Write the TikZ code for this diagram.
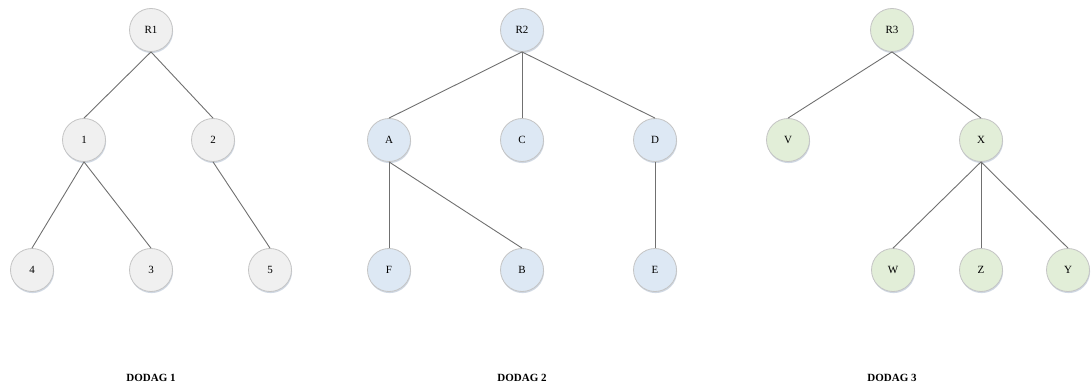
\documentclass[tikz,border=0pt]{standalone}
\usepackage{fontspec}
\setmainfont{Liberation Serif}
\usetikzlibrary{shadows}
\definecolor{gfill}{HTML}{F0F0F0}
\definecolor{bfill}{HTML}{DDE8F4}
\definecolor{vfill}{HTML}{E2EED8}
\definecolor{nborder}{HTML}{C4C4C4}
\definecolor{edgec}{HTML}{707070}
\definecolor{shadc}{HTML}{A9B8CC}
\tikzset{
  nd/.style={circle, draw=nborder, line width=0.8pt, minimum size=43pt, inner sep=0pt,
    font=\fontsize{11}{13}\selectfont,
    drop shadow={shadow xshift=0.6pt, shadow yshift=-1.6pt, fill=shadc, opacity=0.55}},
  gn/.style={nd, fill=gfill},
  bn/.style={nd, fill=bfill},
  vn/.style={nd, fill=vfill},
  ed/.style={draw=edgec, line width=0.9pt},
  captxt/.style={font=\bfseries\fontsize{11}{13}\selectfont}
}
\begin{document}
\begin{tikzpicture}[x=1pt,y=-1pt]
\useasboundingbox (0,0) rectangle (1092,390);
% DODAG 1
\node[gn] (R1) at (151,30) {R1};
\node[gn] (n1) at (84,140) {1};
\node[gn] (n2) at (213,140) {2};
\node[gn] (n4) at (32,270) {4};
\node[gn] (n3) at (151,270) {3};
\node[gn] (n5) at (270,270) {5};
% DODAG 2
\node[bn] (R2) at (522,30) {R2};
\node[bn] (A) at (389,140) {A};
\node[bn] (C) at (522,140) {C};
\node[bn] (D) at (655,140) {D};
\node[bn] (F) at (389,270) {F};
\node[bn] (B) at (522,270) {B};
\node[bn] (E) at (655,270) {E};
% DODAG 3
\node[vn] (R3) at (892,30) {R3};
\node[vn] (V) at (788,140) {V};
\node[vn] (X) at (981,140) {X};
\node[vn] (W) at (893,270) {W};
\node[vn] (Z) at (981,270) {Z};
\node[vn] (Y) at (1068,270) {Y};
% edges
\draw[ed] (R1.south) -- (n1.north);
\draw[ed] (R1.south) -- (n2.north);
\draw[ed] (n1.south) -- (n4.north);
\draw[ed] (n1.south) -- (n3.north);
\draw[ed] (n2.south) -- (n5.north);
\draw[ed] (R2.south) -- (A.north);
\draw[ed] (R2.south) -- (C.north);
\draw[ed] (R2.south) -- (D.north);
\draw[ed] (A.south) -- (F.north);
\draw[ed] (A.south) -- (B.north);
\draw[ed] (D.south) -- (E.north);
\draw[ed] (R3.south) -- (V.north);
\draw[ed] (R3.south) -- (X.north);
\draw[ed] (X.south) -- (W.north);
\draw[ed] (X.south) -- (Z.north);
\draw[ed] (X.south) -- (Y.north);
% captions
\node[captxt] (c1) at (151,378) {DODAG 1};
\node[captxt] (c2) at (522,378) {DODAG 2};
\node[captxt] (c3) at (892,378) {DODAG 3};
\end{tikzpicture}
\end{document}
